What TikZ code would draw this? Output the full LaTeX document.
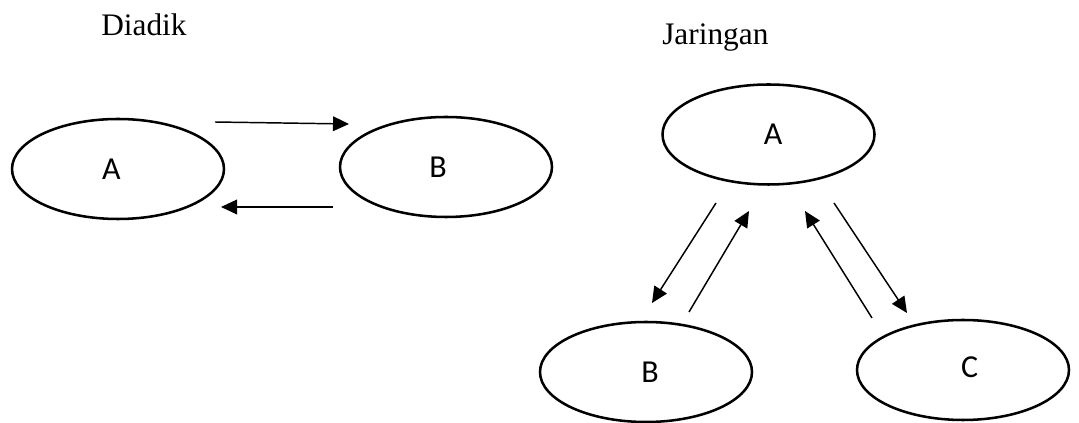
\documentclass[tikz,border=0pt]{standalone}
\usepackage{fontspec}
\setmainfont{Liberation Serif}
\newfontfamily\lblfont{Carlito}
\usetikzlibrary{shapes.geometric,arrows.meta}
\begin{document}
\begin{tikzpicture}[x=0.75pt,y=-0.75pt,
  ell/.style={draw, ellipse, line width=1.9pt, minimum width=159pt, minimum height=75pt, inner sep=0pt, font=\lblfont\fontsize{24}{28}\selectfont},
  arr/.style={line width=1.1pt, -{Triangle[length=12pt,width=11pt]}},
  titletext/.style={font=\fontsize{23.5}{28}\selectfont, inner sep=0pt, anchor=base west}]
\useasboundingbox (0,0) rectangle (1079,423);
% titles
\node[titletext] (t1) at (101,36) {Diadik};
\node[titletext] (t2) at (662,45) {Jaringan};
% dyadic
\node[ell] (dA) at (118,169) {\hspace*{-10pt}A};
\node[ell] (dB) at (446,167) {\hspace*{-12pt}B};
\coordinate (d1s) at (215,122);
\coordinate (d1e) at (349,124);
\coordinate (d2s) at (333,207);
\coordinate (d2e) at (221,207);
\draw[arr] (d1s) -- (d1e);
\draw[arr] (d2s) -- (d2e);
% network
\node[ell] (jA) at (768.5,134.5) {\hspace*{7pt}A};
\node[ell] (jB) at (646,372) {\hspace*{6pt}B};
\node[ell] (jC) at (963,370) {\hspace*{10pt}\raisebox{5pt}{C}};
\coordinate (n1s) at (716,203);
\coordinate (n1e) at (652,303);
\coordinate (n2s) at (689,312);
\coordinate (n2e) at (749,211);
\coordinate (n3s) at (872,318);
\coordinate (n3e) at (805,211);
\coordinate (n4s) at (834,203);
\coordinate (n4e) at (907,313);
\draw[arr] (n1s) -- (n1e);
\draw[arr] (n2s) -- (n2e);
\draw[arr] (n3s) -- (n3e);
\draw[arr] (n4s) -- (n4e);
\end{tikzpicture}
\end{document}
